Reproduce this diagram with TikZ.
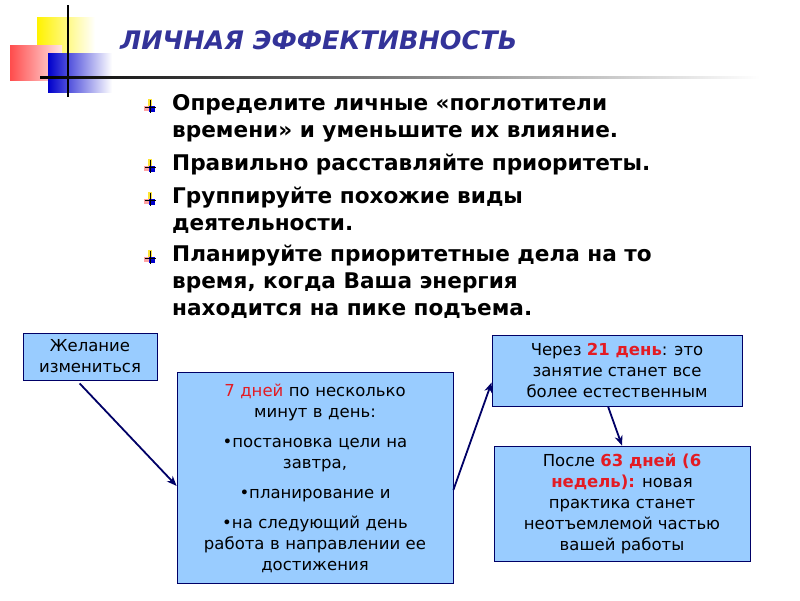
\documentclass[tikz,border=0pt]{standalone}
\usepackage{fontspec}
\setmainfont{DejaVu Sans}
\usetikzlibrary{arrows.meta}
\definecolor{navy}{HTML}{000066}
\definecolor{boxfill}{HTML}{99CCFF}
\definecolor{titlec}{HTML}{333399}
\definecolor{redt}{HTML}{E31B23}
\tikzset{
 box/.style={draw=navy,fill=boxfill,line width=0.8pt,align=center,font=\fontsize{16.5}{21}\selectfont,inner sep=3pt},
 arr/.style={draw=navy,line width=1.8pt,-{Stealth[length=10pt,width=8pt]}},
 btxt/.style={anchor=north west,align=left,font=\bfseries\fontsize{21.6}{27}\selectfont,inner sep=0pt},
}
\newcommand{\rd}[1]{\textcolor{redt}{#1}}
\newcommand{\bul}[1]{%
 \begin{scope}[shift={#1}]
 \fill[red!60,opacity=.6] (-9,-1) rectangle (-2,4);
 \fill[yellow!80!orange,opacity=.8] (-5,-8) rectangle (-1,-1);
 \fill[blue!80!black] (-4,-1) rectangle (2,5);
 \draw[black,line width=.6pt] (-8,0)--(3,0) (-3,-7)--(-3,6);
 \end{scope}}
\begin{document}
\begin{tikzpicture}[x=1pt,y=-1pt]
\useasboundingbox (0,0) rectangle (800,600);
\fill[white] (0,0) rectangle (800,600);
% logo
\shade[left color=yellow!90!orange,right color=white] (37,17) rectangle (95,70);
\shade[left color=red!70!white,right color=red!10] (10,45) rectangle (62,80);
\shade[left color=blue!80!black,right color=white] (48,53) rectangle (112,92);
\draw[black,line width=1.6pt] (68,5)--(68,97);
\shade[left color=black,right color=white] (40,76) rectangle (760,78);
\node[anchor=west,font=\bfseries\itshape\fontsize{25.5}{30}\selectfont,text=titlec,inner sep=0] (title) at (120,40) {ЛИЧНАЯ ЭФФЕКТИВНОСТЬ};
% bullets
\bul{(153,107)}\bul{(153,167)}\bul{(153,200)}\bul{(153,258)}
\node[btxt] (b1) at (172,94) {Определите личные «поглотители\\времени» и уменьшите их влияние.};
\node[btxt] (b2) at (172,154) {Правильно расставляйте приоритеты.};
\node[btxt] (b3) at (172,187) {Группируйте похожие виды\\деятельности.};
\node[btxt] (b4) at (172,245) {Планируйте приоритетные дела на то\\время, когда Ваша энергия\\находится на пике подъема.};
% boxes
\node[box,minimum width=134pt,minimum height=47pt] (w) at (90,356.5) {Желание\\измениться};
\node[box,minimum width=276pt,minimum height=211pt,text width=266pt,anchor=north] (m) at (315,372) {\rd{7 дней} по несколько\\минут в день:\\[9pt]•постановка цели на\\завтра,\\[9pt]•планирование и\\[9pt]•на следующий день\\работа в направлении ее\\достижения};
\node[box,minimum width=250pt,minimum height=71pt] (c) at (617,370.5) {Через \textbf{\rd{21 день}}: это\\занятие станет все\\более естественным};
\node[box,minimum width=256pt,minimum height=115pt] (p) at (622,503.5) {После \textbf{\rd{63 дней (6}}\\\textbf{\rd{недель):}} новая\\практика станет\\неотъемлемой частью\\вашей работы};
\draw[arr] (w.south west)++(57,3) -- ([yshift=-8pt]m.west);
\draw[arr] ([yshift=-12pt]m.east) -- ([yshift=-12pt]c.west);
\draw[arr] ([xshift=-9pt]c.south) -- ([xshift=0pt]p.north);
\end{tikzpicture}
\end{document}
